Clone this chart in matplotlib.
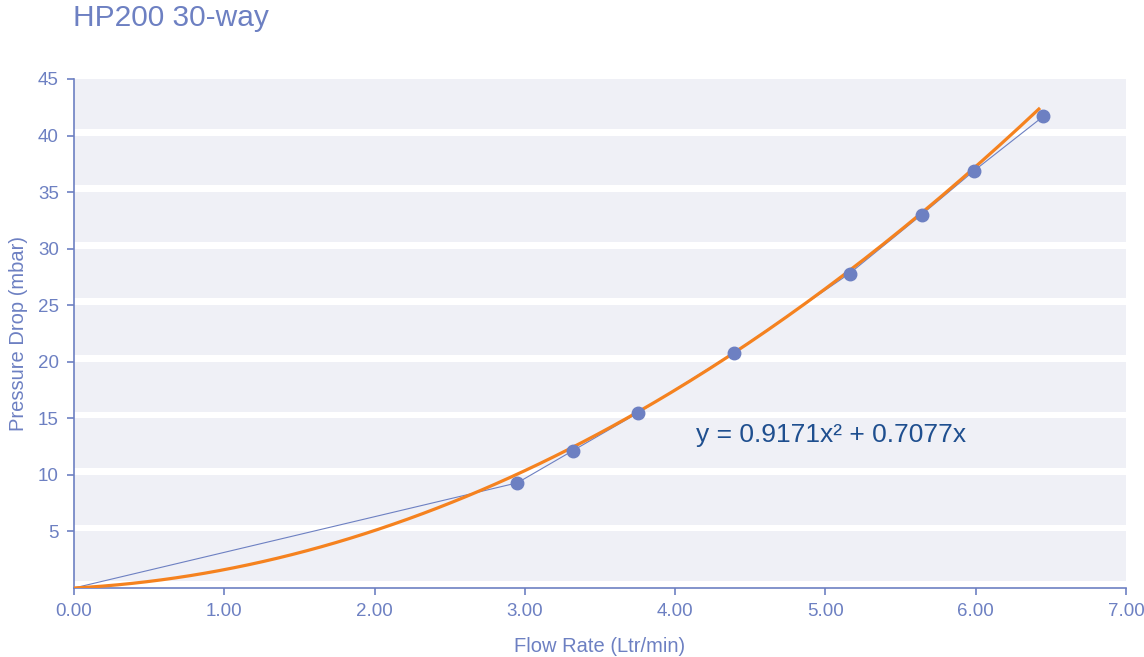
import numpy as np
import matplotlib.pyplot as plt
from matplotlib.ticker import FormatStrFormatter

plt.rcParams['font.family'] = ['Liberation Sans', 'DejaVu Sans']

# measured flow rate (Ltr/min) and pressure drop (mbar)
flow = [0.0, 2.95, 3.32, 3.75, 4.39, 5.16, 5.64, 5.99, 6.45]
pressure = [0.0, 9.3, 12.15, 15.45, 20.8, 27.8, 33.0, 36.9, 41.7]

# quadratic trendline coefficients
coef_a = 0.9171
coef_b = 0.7077

y_ticks = [5, 10, 15, 20, 25, 30, 35, 40, 45]
x_ticks = [0, 1, 2, 3, 4, 5, 6, 7]

blue = '#6d80c2'
orange = '#f5821f'
band = '#eff0f6'

fig = plt.figure(figsize=(11.44, 6.57), dpi=100)
ax = fig.add_axes([0.0647, 0.105, 0.9196, 0.7748])

# horizontal bands with a white gap above each gridline
gap = 0.6
for lo in range(0, 45, 5):
    ax.axhspan(lo + gap, lo + 5, color=band, lw=0, zorder=0)

fit_x = np.linspace(0, 6.42, 200)
fit_y = coef_a * fit_x ** 2 + coef_b * fit_x

ax.plot(flow, pressure, color=blue, lw=0.8, zorder=2)
ax.plot(fit_x, fit_y, color=orange, lw=2.3, zorder=3)
ax.plot(flow[1:], pressure[1:], 'o', color=blue, markersize=9, zorder=4)

ax.text(4.14, 13.5, 'y = 0.9171x² + 0.7077x', color='#1f4f8f',
        fontsize=19, va='center', ha='left')

ax.set_xlim(0, 7)
ax.set_ylim(0, 45)
ax.set_xticks(x_ticks)
ax.set_yticks(y_ticks)
ax.xaxis.set_major_formatter(FormatStrFormatter('%.2f'))

for side in ['top', 'right']:
    ax.spines[side].set_visible(False)
for side in ['left', 'bottom']:
    ax.spines[side].set_color(blue)
    ax.spines[side].set_linewidth(1.2)
ax.tick_params(colors=blue, labelsize=13.5, length=5, width=1.2, pad=6)

ax.set_xlabel('Flow Rate (Ltr/min)', color=blue, fontsize=14.5, labelpad=12)
ax.set_ylabel('Pressure Drop (mbar)', color=blue, fontsize=14.5, labelpad=7)

fig.text(0.0638, 0.972, 'HP200 30-way', color=blue, fontsize=21.5,
         ha='left', va='center')

fig.savefig('out.png', dpi=100)
